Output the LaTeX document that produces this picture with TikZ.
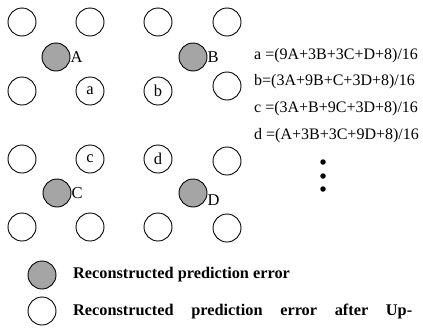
\documentclass[tikz,border=0pt]{standalone}
\usepackage{fontspec}
\setmainfont{Liberation Serif}
\definecolor{grayfill}{RGB}{165,165,165}
\begin{document}
\begin{tikzpicture}[x=1pt,y=-1pt,
  open/.style={circle,draw,line width=0.9pt,minimum size=28pt,inner sep=0pt,font=\fontsize{16.5}{19}\selectfont},
  filled/.style={open,fill=grayfill},
  lbl/.style={font=\fontsize{16.5}{19}\selectfont,inner sep=0pt,anchor=west},
  fml/.style={font=\fontsize{16}{19}\selectfont,inner sep=0pt,anchor=west},
  leg/.style={font=\fontsize{16.3}{19}\selectfont\bfseries,inner sep=0pt,anchor=west},
  dot/.style={circle,fill=black,minimum size=5.5pt,inner sep=0pt}]
\useasboundingbox (0,0) rectangle (423,327);
% grid of open circles
\node[open] (o11) at (22,22) {};
\node[open] (o12) at (90,22) {};
\node[open] (o13) at (158,22) {};
\node[open] (o14) at (227,22) {};
\node[open] (o21) at (22,91) {};
\node[open] (a) at (90,91) {a};
\node[open] (b) at (158,91) {b};
\node[open] (o24) at (227,86) {};
\node[open] (o31) at (22,159) {};
\node[open] (c) at (90,159) {c};
\node[open] (d) at (158,159) {d};
\node[open] (o34) at (227,161) {};
\node[open] (o41) at (22,227) {};
\node[open] (o42) at (90,227) {};
\node[open] (o43) at (158,227) {};
\node[open] (o44) at (227,228) {};
% filled circles
\node[filled] (A) at (56,57) {};
\node[filled] (B) at (193,57) {};
\node[filled] (C) at (57,193) {};
\node[filled] (D) at (193,193) {};
\node[lbl] (lA) at (A.east) {A};
\node[lbl] (lB) at (B.east) {B};
\node[lbl] (lC) at (C.east) {C};
\node[lbl,anchor=north west] (lD) at ([yshift=-1pt]D.east) {D};
% formulas
\node[fml] (fa) at (254,56) {a =(9A+3B+3C+D+8)/16};
\node[fml] (fb) at (254,82) {b=(3A+9B+C+3D+8)/16};
\node[fml] (fc) at (254,109) {c =(3A+B+9C+3D+8)/16};
\node[fml] (fd) at (254,136) {d =(A+3B+3C+9D+8)/16};
\node[dot] (d1) at (323,162) {};
\node[dot] (d2) at (323,176) {};
\node[dot] (d3) at (323,189) {};
% legend
\node[filled] (lg1) at (42,275) {};
\node[leg] (lt1) at (73,275) {Reconstructed prediction error};
\node[open] (lg2) at (42,311) {};
\node[leg,text width=339pt] (lt2) at (73,311) {Reconstructed\hfill prediction\hfill error\hfill after\hfill Up-};
\end{tikzpicture}
\end{document}
